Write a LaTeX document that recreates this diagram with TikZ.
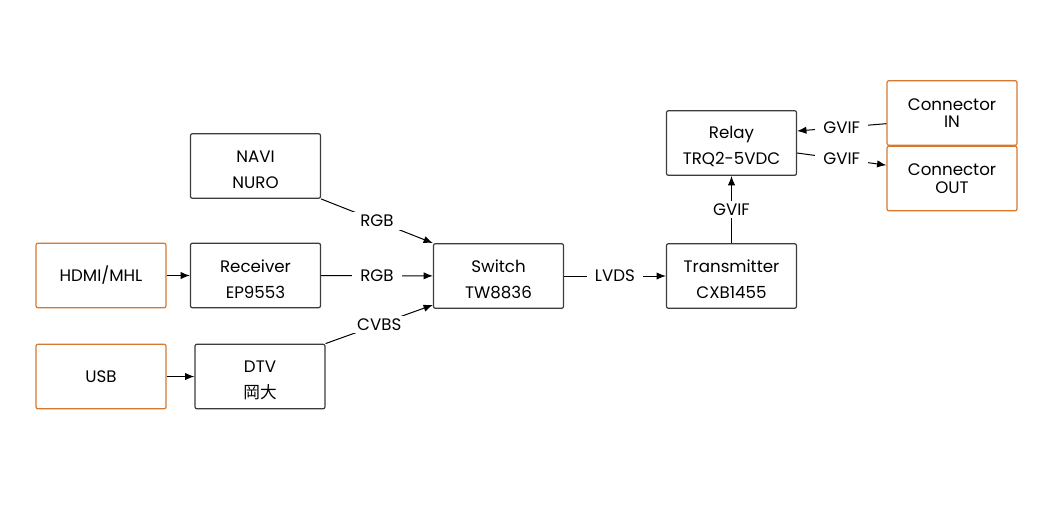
\documentclass[tikz,border=0pt]{standalone}
\usepackage{fontspec}
\usetikzlibrary{arrows.meta}
\setmainfont{Poppins}
\newfontfamily\cjk{Noto Sans CJK JP}
\newcommand\lift{\rule{0pt}{15pt}}
\definecolor{portorange}{RGB}{214,120,48}
\definecolor{boxgray}{RGB}{60,60,60}
\tikzset{
  block/.style={draw=boxgray, line width=0.9pt, rectangle, rounded corners=1.5pt, align=center,
    minimum width=97.5pt, minimum height=48.5pt, inner sep=0pt},
  port/.style={block, draw=portorange},
  sig/.style={fill=white, inner xsep=6pt, inner ysep=2pt},
  every node/.append style={font=\fontsize{12.5}{19.5}\selectfont},
}
\begin{document}
\begin{tikzpicture}[x=0.75pt, y=-0.75pt, line width=0.75pt, >={Latex[length=7pt,width=5.5pt]}]
\useasboundingbox (0,0) rectangle (1037,526);
\node[block] (navi) at (255.5,166) {\lift NAVI\\NURO};
\node[block] (rx) at (255.5,275.5) {\lift Receiver\\EP9553};
\node[port] (hdmi) at (101,275.5) {HDMI/MHL};
\node[port] (usb) at (101,376.5) {USB};
\node[block] (dtv) at (260,376.5) {\lift DTV\\{\cjk 岡大}};
\node[block] (switch) at (498.5,276) {\lift Switch\\TW8836};
\node[block] (tx) at (731.5,276) {\lift Transmitter\\CXB1455};
\node[block] (relay) at (731.5,143) {\lift Relay\\TRQ2-5VDC};
\node[port, font=\fontsize{12.5}{13}\selectfont] (conin) at (952,113) {Connector\\IN};
\node[port, font=\fontsize{12.5}{13}\selectfont] (conout) at (952,178.5) {Connector\\OUT};
\draw[->] (hdmi) -- (rx);
\draw[->] (usb) -- (dtv);
\draw[->] (navi.south east) -- node[sig] {RGB} (switch.north west);
\draw[->] (rx) -- node[sig] {RGB} (switch);
\draw[->] (dtv.north east) -- node[sig] {CVBS} ([yshift=3pt]switch.south west);
\draw[->] (switch) -- node[sig] {LVDS} (tx);
\draw[->] (tx) -- node[sig] {GVIF} (relay);
\draw[->] ([yshift=-8pt]conin.west) -- node[sig] {GVIF} ([yshift=9pt]relay.east);
\draw[->] ([yshift=-7.5pt]relay.east) -- node[sig] {GVIF} ([yshift=10pt]conout.west);
\end{tikzpicture}
\end{document}
